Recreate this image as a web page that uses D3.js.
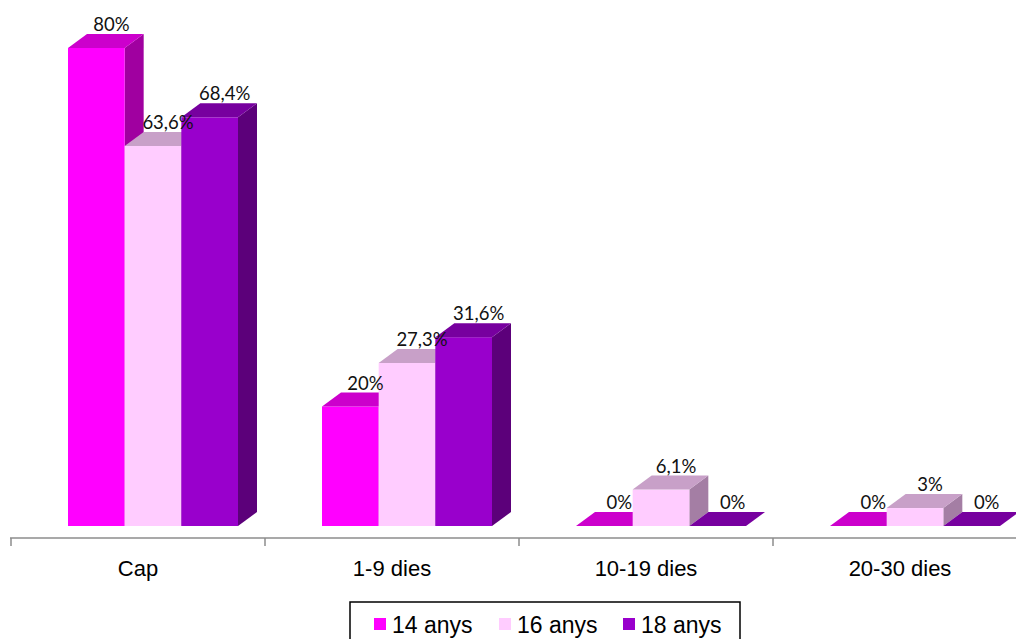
<!DOCTYPE html>
<html lang="ca">
<head>
<meta charset="UTF-8">
<title>Dies</title>
<script src="https://d3js.org/d3.v7.min.js"></script>
<style>
    body { margin: 0; background: white; }
    .val { font-family: Lato, 'Open Sans', sans-serif; font-size: 18.5px; fill: #111; text-anchor: middle; }
    .cat { font-family: 'Liberation Sans', Arial, sans-serif; font-size: 22px; fill: #000; text-anchor: middle; }
    .leg { font-family: 'Liberation Sans', Arial, sans-serif; font-size: 23px; fill: #000; }
</style>
</head>
<body>
<script>
    const width = 1016, height = 639;

    const categories = ['Cap', '1-9 dies', '10-19 dies', '20-30 dies'];
    const series = ['14 anys', '16 anys', '18 anys'];
    const values = {
        '14 anys': [80, 20, 0, 0],
        '16 anys': [63.6, 27.3, 6.1, 3],
        '18 anys': [68.4, 31.6, 0, 0]
    };

    const fronts = ['#ff00ff', '#ffccff', '#9900cc'];
    const tops   = ['#cc00cc', '#c8a0c8', '#77009f'];
    const sides  = ['#a000a0', '#a47ea4', '#5c007a'];

    const dx = 19, dy = 14;
    const base = 526;

    const svg = d3.select('body').append('svg').attr('width', width).attr('height', height);

    const x = d3.scaleBand().domain(categories).range([11, 1027]);
    const xs = d3.scaleBand().domain(series).range([57, 227]);
    const y = d3.scaleLinear().domain([0, 80]).range([base, 48]);

    const fmt = v => String(v).replace('.', ',') + '%';

    // bars, drawn back-to-front per category, labels on top of everything
    const bars = svg.append('g');
    const labels = svg.append('g');
    categories.forEach((c, ci) => {
        series.forEach((s, si) => {
            const v = values[s][ci];
            const x0 = x(c) + xs(s), w = xs.bandwidth();
            const yt = y(v);
            const g = bars.append('g');
            // side
            g.append('path')
                .attr('d', `M${x0 + w},${yt} L${x0 + w + dx},${yt - dy} L${x0 + w + dx},${base - dy} L${x0 + w},${base} Z`)
                .attr('fill', sides[si]);
            // front
            g.append('rect')
                .attr('x', x0).attr('y', yt).attr('width', w).attr('height', base - yt)
                .attr('fill', fronts[si]);
            // top
            g.append('path')
                .attr('d', `M${x0},${yt} L${x0 + dx},${yt - dy} L${x0 + w + dx},${yt - dy} L${x0 + w},${yt} Z`)
                .attr('fill', tops[si]);
            labels.append('text').attr('class', 'val')
                .attr('x', x0 + w / 2 + 15).attr('y', yt - dy - 3)
                .text(fmt(v));
        });
    });

    // axis
    const axisY = 538;
    const ax = svg.append('g');
    ax.append('line').attr('x1', 10).attr('x2', width).attr('y1', axisY).attr('y2', axisY)
        .attr('stroke', '#8c8c8c').attr('stroke-width', 1.5);
    categories.concat(['end']).forEach((c, i) => {
        const tx = 11 + i * x.bandwidth();
        ax.append('line').attr('x1', tx).attr('x2', tx).attr('y1', axisY).attr('y2', axisY + 8)
            .attr('stroke', '#8c8c8c').attr('stroke-width', 1.5);
    });
    ax.selectAll('text.cat').data(categories).enter().append('text')
        .attr('class', 'cat')
        .attr('x', d => x(d) + x.bandwidth() / 2)
        .attr('y', 576)
        .text(d => d);

    // legend
    const leg = svg.append('g');
    leg.append('rect').attr('x', 350).attr('y', 602).attr('width', 390).attr('height', 50)
        .attr('fill', 'white').attr('stroke', '#000').attr('stroke-width', 1.5);
    const legX = [374, 499, 623];
    series.forEach((s, i) => {
        leg.append('rect').attr('x', legX[i]).attr('y', 618).attr('width', 12).attr('height', 12)
            .attr('fill', fronts[i]);
        leg.append('text').attr('class', 'leg').attr('x', legX[i] + 18).attr('y', 633).text(s);
    });
</script>
</body>
</html>
